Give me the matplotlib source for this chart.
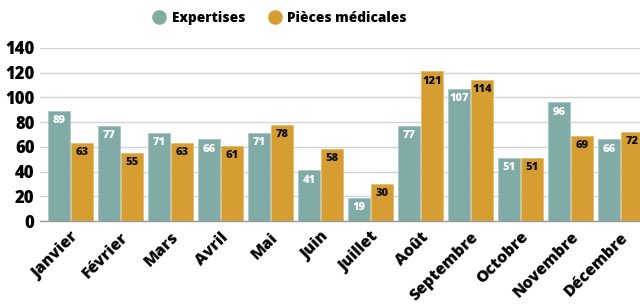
import matplotlib
matplotlib.use("Agg")
import matplotlib.pyplot as plt
import numpy as np
from matplotlib.lines import Line2D

months = ["Janvier", "Février", "Mars", "Avril", "Mai", "Juin", "Juillet",
          "Août", "Septembre", "Octobre", "Novembre", "Décembre"]
expertises = [89, 77, 71, 66, 71, 41, 19, 77, 107, 51, 96, 66]
pieces = [63, 55, 63, 61, 78, 58, 30, 121, 114, 51, 69, 72]
series_names = ["Expertises", "Pièces médicales"]
yticks = [0, 20, 40, 60, 80, 100, 120, 140]

teal = "#80aba6"
gold = "#d69e32"
FONT = ["Open Sans", "DejaVu Sans"]
plt.rcParams["font.family"] = FONT
HEAVY = 800

fig = plt.figure(figsize=(6.4, 3.06), dpi=100)
ax = fig.add_axes([40/640, (306-221)/306, 600/640, 173/306])

x = np.arange(len(months))
w = 0.44
b1 = ax.bar(x - w/2 - 0.01, expertises, w, color=teal, edgecolor="#a9c7c4", linewidth=0.6, zorder=3, label=series_names[0])
b2 = ax.bar(x + w/2 + 0.01, pieces, w, color=gold, edgecolor="#e6bd6e", linewidth=0.6, zorder=3, label=series_names[1])

for rect, v in zip(b1, expertises):
    ax.annotate(str(v), (rect.get_x() + rect.get_width()/2, v), xytext=(0, -3),
                textcoords="offset points", ha="center", va="top",
                fontsize=8, fontweight=HEAVY, color="white", zorder=4)
for rect, v in zip(b2, pieces):
    ax.annotate(str(v), (rect.get_x() + rect.get_width()/2, v), xytext=(0, -3),
                textcoords="offset points", ha="center", va="top",
                fontsize=8, fontweight=HEAVY, color="#111111", zorder=4)

ax.set_xlim(-0.61, 11.39)
ax.set_ylim(0, 140)
ax.set_yticks(yticks)
ax.set_yticklabels([str(t) for t in yticks], fontsize=12, fontweight=HEAVY)
ax.set_xticks(x)
ax.set_xticklabels(months, rotation=45, ha="right", va="top", rotation_mode="anchor",
                   fontsize=11.5, fontweight=HEAVY)
ax.tick_params(axis="both", length=0)
ax.tick_params(axis="x", pad=6)
ax.tick_params(axis="y", pad=4)
ax.grid(axis="y", color="#d4d4d4", linewidth=1, zorder=0)
for s in ["top", "right", "left"]:
    ax.spines[s].set_visible(False)
ax.spines["bottom"].set_color("#999999")
ax.spines["bottom"].set_linewidth(1)
ax.spines["bottom"].set_zorder(5)

handles = [Line2D([], [], marker="o", linestyle="", markersize=9.5, color=teal),
           Line2D([], [], marker="o", linestyle="", markersize=9.5, color=gold)]
fig.legend(handles, series_names, loc="center", bbox_to_anchor=(279/640, 1 - 18/306),
           ncol=2, frameon=False, prop={"family": FONT, "weight": HEAVY, "size": 9.8},
           handletextpad=0.3, columnspacing=1.6, handlelength=1.2)

fig.savefig("out.png", dpi=100)
